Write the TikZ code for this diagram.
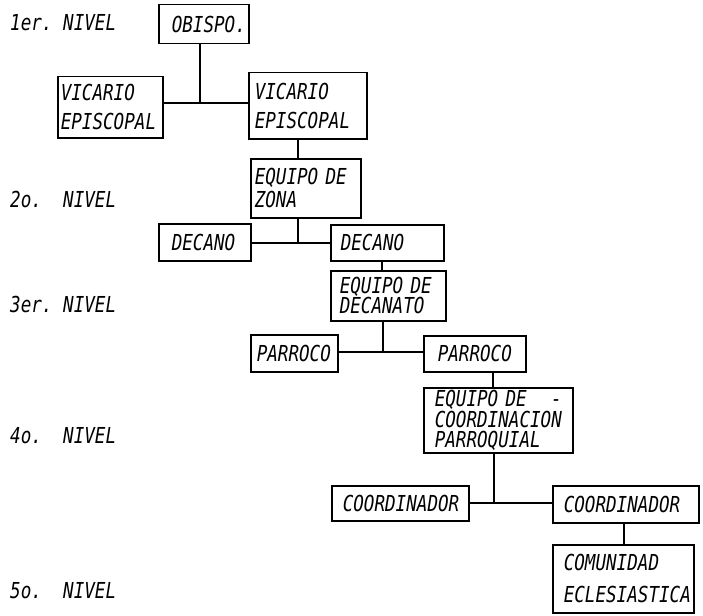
\documentclass[tikz,border=0pt]{standalone}
\usepackage{fontspec}
\newfontfamily\tw{DejaVu Sans Mono}[FakeStretch=0.8]
\tikzset{
  box/.style={draw, line width=1.5pt, anchor=north west, inner ysep=0pt, align=left,
    font=\tw\itshape\fontsize{22}{22}\selectfont},
  lvl/.style={anchor=base west, inner sep=0pt, font=\tw\itshape\fontsize{22}{22}\selectfont},
  wire/.style={line width=1.5pt}
}
\begin{document}
\begin{tikzpicture}[x=1pt,y=-1pt]
\useasboundingbox (0,0) rectangle (703,615);
% level labels
\node[lvl] (n1) at (10,31)  {\makebox[53pt][l]{1er.}NIVEL};
\node[lvl] (n2) at (10,207) {\makebox[53pt][l]{2o.}NIVEL};
\node[lvl] (n3) at (10,312) {\makebox[53pt][l]{3er.}NIVEL};
\node[lvl] (n4) at (10,443) {\makebox[53pt][l]{4o.}NIVEL};
\node[lvl] (n5) at (10,598) {\makebox[53pt][l]{5o.}NIVEL};
% boxes
\node[box, minimum width=90pt, minimum height=39pt, inner xsep=13pt, text width=64pt] (obispo) at (158,4) {OBISPO.};
\node[box, minimum width=105pt, minimum height=61pt, inner xsep=3pt, text width=99pt] (vicL) at (57,76) {VICARIO\\[7pt]EPISCOPAL};
\node[box, minimum width=118pt, minimum height=66pt, inner xsep=6pt, text width=106pt] (vicR) at (248,72) {VICARIO\\[7pt]EPISCOPAL};
\node[box, minimum width=110pt, minimum height=59pt, inner xsep=4pt, text width=102pt] (zona) at (250,158) {EQUIPO DE\\[1pt]ZONA};
\node[box, minimum width=92pt, minimum height=37pt, inner xsep=13pt, text width=66pt] (decL) at (158,223) {DECANO};
\node[box, minimum width=113pt, minimum height=36pt, inner xsep=10pt, text width=93pt] (decR) at (330,224) {DECANO};
\node[box, minimum width=115pt, minimum height=50pt, inner xsep=9pt, text width=97pt] (decanato) at (330,270) {EQUIPO DE\\[-2pt]DECANATO};
\node[box, minimum width=87pt, minimum height=37pt, inner xsep=6pt, text width=75pt] (parL) at (250,334) {PARROCO};
\node[box, minimum width=102pt, minimum height=36pt, inner xsep=14pt, text width=74pt] (parR) at (423,335) {PARROCO};
\node[box, minimum width=149pt, minimum height=65pt, inner xsep=11pt, text width=127pt] (eqc) at (423,387) {EQUIPO DE\hfill-\\[-1pt]COORDINACION\\[-2pt]PARROQUIAL};
\node[box, minimum width=137pt, minimum height=35pt, inner xsep=11pt, text width=115pt] (coorL) at (331,485) {COORDINADOR};
\node[box, minimum width=146pt, minimum height=37pt, inner xsep=11pt, text width=124pt] (coorR) at (552,485) {COORDINADOR};
\node[box, minimum width=141pt, minimum height=68pt, inner xsep=11pt, text width=119pt] (comunidad) at (552,544) {COMUNIDAD\\[10pt]ECLESIASTICA};
% connectors
\coordinate (j1) at (200,103);
\coordinate (x2) at (298,0);
\coordinate (j2) at (298,243);
\coordinate (x3) at (382,0);
\coordinate (j3) at (383,352);
\coordinate (x4) at (493,0);
\coordinate (j4) at (494,503);
\coordinate (x5) at (624,0);
\draw[wire] (obispo.south -| j1) -- (j1);
\draw[wire] (vicL.east |- j1) -- (vicR.west |- j1);
\draw[wire] (vicR.south -| x2) -- (zona.north -| x2);
\draw[wire] (zona.south -| j2) -- (j2);
\draw[wire] (decL.east |- j2) -- (decR.west |- j2);
\draw[wire] (decR.south -| x3) -- (decanato.north -| x3);
\draw[wire] (decanato.south -| j3) -- (j3);
\draw[wire] (parL.east |- j3) -- (parR.west |- j3);
\draw[wire] (parR.south -| x4) -- (eqc.north -| x4);
\draw[wire] (eqc.south -| j4) -- (j4);
\draw[wire] (coorL.east |- j4) -- (coorR.west |- j4);
\draw[wire] (coorR.south -| x5) -- (comunidad.north -| x5);
\end{tikzpicture}
\end{document}
